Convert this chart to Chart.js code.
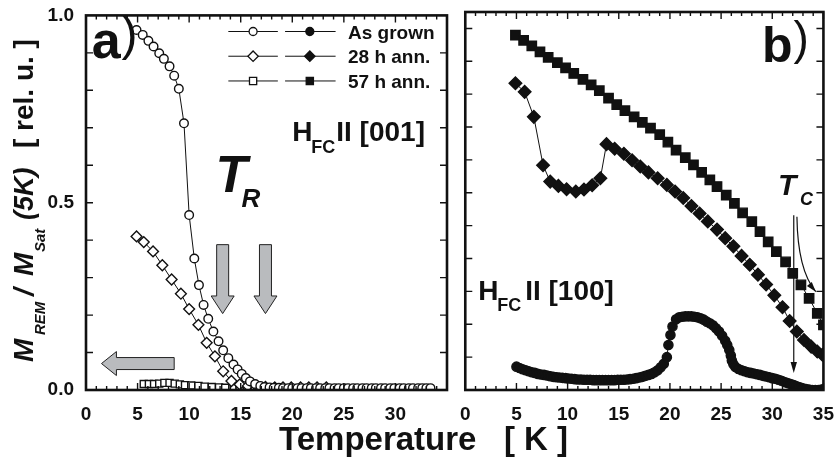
<!DOCTYPE html>
<html lang="en">
<head>
<meta charset="UTF-8">
<title>Remanent magnetization vs temperature</title>
<style>
  body { margin: 0; background: #fff; }
  #wrap { position: relative; width: 839px; height: 461px; overflow: hidden; }
  #wrap canvas { position: absolute; top: 0; }
  #cA { left: 0; }
  #cB { left: 455px; }
  #xTitle { position: absolute; left: 279px; top: 422px; font: bold 33px 'Liberation Sans', Arial, sans-serif;
            line-height: 33px; white-space: pre; color: #111; }
</style>
</head>
<body>
<div id="wrap">
  <canvas id="cA" width="458" height="461"></canvas>
  <canvas id="cB" width="384" height="461"></canvas>
  <div id="xTitle">Temperature   [ K ]</div>
</div>

<script src="https://cdn.jsdelivr.net/npm/chart.js"></script>
<script>
const FONT = "'Liberation Sans', Arial, Helvetica, sans-serif";

// ---- panel a)  H_FC || [001] ----
const tGrownA = [4.9, 5.5, 6.05, 6.55, 7.1, 7.55, 8.1, 8.55, 9.0, 9.5, 10.0, 10.5, 10.95, 11.4, 11.85, 12.35, 12.85, 13.3, 13.8, 14.3,
  14.7, 15.1, 15.5, 15.9, 16.4, 16.9, 17.3, 17.8, 18.2, 18.7, 19.1, 19.6, 20.0, 20.5, 20.9, 21.4, 21.8, 22.3, 22.7, 23.2,
  23.6, 24.1, 24.5, 25.0, 25.4, 25.9, 26.3, 26.8, 27.2, 27.7, 28.1, 28.6, 29.0, 29.5, 29.9, 30.4, 30.8, 31.3, 31.7, 32.2,
  32.6, 33.0, 33.4];
const mGrownA = [0.961, 0.948, 0.932, 0.917, 0.899, 0.884, 0.864, 0.839, 0.804, 0.712, 0.467, 0.351, 0.280, 0.227, 0.190, 0.156, 0.130, 0.106, 0.085, 0.068,
  0.055, 0.043, 0.032, 0.023, 0.016, 0.011, 0.008, 0.007, 0.006, 0.006, 0.005, 0.005, 0.005, 0.005, 0.005, 0.005, 0.005, 0.005, 0.005, 0.005,
  0.005, 0.005, 0.005, 0.005, 0.005, 0.005, 0.005, 0.005, 0.005, 0.005, 0.005, 0.005, 0.005, 0.005, 0.005, 0.005, 0.005, 0.005, 0.005, 0.005,
  0.005, 0.005, 0.005];

const tAnn28A = [4.9, 5.6, 6.5, 7.4, 8.3, 9.2, 10.0, 10.9, 11.7, 12.5, 13.3, 14.1, 14.9, 15.7, 16.6, 17.4, 18.3, 19.1, 19.9, 20.8, 21.6, 22.4, 23.3];
const mAnn28A = [0.410, 0.395, 0.370, 0.333, 0.295, 0.257, 0.216, 0.174, 0.126, 0.090, 0.050, 0.024, 0.015, 0.011, 0.009, 0.008, 0.007, 0.007, 0.007, 0.007, 0.007, 0.007, 0.007];

const tAnn57A = [5.6, 6.1, 6.6, 7.1, 7.6, 8.1, 8.6, 9.1, 9.6, 10.2, 10.9, 11.5, 12.2, 12.9, 13.5, 14.2, 14.9, 15.6];
const mAnn57A = [0.016, 0.016, 0.016, 0.017, 0.019, 0.019, 0.017, 0.015, 0.013, 0.012, 0.011, 0.009, 0.008, 0.007, 0.006, 0.005, 0.004, 0.004];

// ---- panel b)  H_FC || [100] ----
const tGrownB = [5.0, 5.3, 5.6, 5.9, 6.2, 6.5, 6.8, 7.1, 7.4, 7.7, 8.0, 8.3, 8.6, 8.9, 9.2, 9.5, 9.8, 10.1, 10.4, 10.7,
  11.0, 11.3, 11.6, 11.9, 12.2, 12.5, 12.8, 13.1, 13.4, 13.7, 14.0, 14.3, 14.6, 14.9, 15.2, 15.5, 15.8, 16.1, 16.4, 16.7,
  17.0, 17.3, 17.6, 17.9, 18.2, 18.5, 18.8, 19.1, 19.4, 19.7, 19.85, 20.05, 20.25, 20.6, 20.9, 21.2, 21.5, 21.8, 22.1, 22.4,
  22.7, 23.0, 23.3, 23.6, 23.9, 24.2, 24.5, 24.8, 25.1, 25.4, 25.6, 25.8, 25.95, 26.05, 26.2, 26.4, 26.7, 27.0, 27.3, 27.6,
  27.9, 28.2, 28.5, 28.8, 29.1, 29.4, 29.7, 30.0, 30.3, 30.6, 30.9, 31.2, 31.5, 31.8, 32.1, 32.4, 32.7, 33.0, 33.3, 33.6,
  33.9, 34.2, 34.5, 34.8, 35.0];
const mGrownB = [0.071, 0.067, 0.063, 0.060, 0.057, 0.054, 0.052, 0.049, 0.047, 0.046, 0.044, 0.042, 0.040, 0.039, 0.038, 0.037, 0.036, 0.035, 0.034, 0.033,
  0.032, 0.032, 0.031, 0.031, 0.031, 0.030, 0.030, 0.030, 0.030, 0.030, 0.030, 0.030, 0.030, 0.031, 0.031, 0.031, 0.032, 0.033, 0.034, 0.036,
  0.038, 0.040, 0.043, 0.046, 0.049, 0.054, 0.060, 0.069, 0.080, 0.100, 0.137, 0.167, 0.193, 0.215, 0.221, 0.223, 0.224, 0.224, 0.224, 0.223,
  0.221, 0.218, 0.214, 0.208, 0.203, 0.197, 0.188, 0.178, 0.165, 0.150, 0.137, 0.122, 0.105, 0.090, 0.078, 0.070, 0.064, 0.060, 0.057, 0.054,
  0.052, 0.050, 0.048, 0.046, 0.043, 0.041, 0.039, 0.036, 0.034, 0.031, 0.028, 0.024, 0.021, 0.018, 0.015, 0.011, 0.008, 0.005, 0.003, 0.001,
  0.000, 0.000, 0.000, 0.001, 0.002];

const tAnn28B = [4.9, 5.8, 6.7, 7.6, 8.3, 9.1, 9.9, 10.8, 11.6, 12.4, 13.2, 13.8, 14.6, 15.5, 16.3, 17.1, 17.9, 18.8, 19.7, 20.5,
  21.3, 22.1, 22.9, 23.7, 24.6, 25.4, 26.2, 27.0, 27.8, 28.6, 29.4, 30.2, 31.0, 31.7, 32.4, 33.1, 33.8, 34.4, 34.9];
const mAnn28B = [0.933, 0.907, 0.831, 0.684, 0.634, 0.621, 0.611, 0.604, 0.610, 0.623, 0.644, 0.748, 0.734, 0.719, 0.699, 0.680, 0.662, 0.644, 0.624, 0.604,
  0.584, 0.560, 0.537, 0.513, 0.488, 0.462, 0.437, 0.408, 0.381, 0.351, 0.321, 0.288, 0.252, 0.210, 0.178, 0.152, 0.132, 0.117, 0.107];

const tAnn57B = [4.9, 5.7, 6.5, 7.3, 8.1, 9.0, 9.8, 10.6, 11.5, 12.3, 13.1, 14.0, 14.8, 15.6, 16.5, 17.3, 18.1, 19.0, 19.8, 20.6,
  21.5, 22.3, 23.1, 23.9, 24.6, 25.5, 26.3, 27.1, 28.0, 28.8, 29.6, 30.4, 31.3, 32.0, 32.8, 33.6, 34.4, 35.0];
const mAnn57B = [1.080, 1.064, 1.047, 1.029, 1.012, 0.996, 0.980, 0.963, 0.945, 0.928, 0.911, 0.888, 0.868, 0.850, 0.831, 0.814, 0.797, 0.777, 0.754, 0.730,
  0.707, 0.685, 0.662, 0.639, 0.619, 0.593, 0.568, 0.539, 0.512, 0.482, 0.451, 0.421, 0.390, 0.355, 0.320, 0.279, 0.233, 0.198];

const legendNames = ['As grown', '28 h ann.', '57 h ann.'];
const legendStyles = ['circle', 'diamond', 'square'];
const xLabelsA = [0, 5, 10, 15, 20, 25, 30];
const yLabelsA = [0, 0.5, 1.0];

const pts = (t, m) => t.map((v, i) => ({ x: v, y: m[i] }));

function series(label, t, m, style, r, fill) {
  return {
    label, data: pts(t, m), showLine: true, tension: 0,
    borderColor: '#111', borderWidth: 1,
    pointStyle: style, pointRadius: r, pointHoverRadius: r,
    pointBackgroundColor: fill, pointBorderColor: '#111', pointBorderWidth: 1.4
  };
}

// own marker drawer for the legend
function marker(ctx, style, x, y, filled) {
  ctx.beginPath();
  if (style === 'circle') ctx.arc(x, y, 4, 0, Math.PI * 2);
  else if (style === 'square') ctx.rect(x - 3.6, y - 3.6, 7.2, 7.2);
  else { const r = 5.2; ctx.moveTo(x, y - r); ctx.lineTo(x + r, y); ctx.lineTo(x, y + r); ctx.lineTo(x - r, y); ctx.closePath(); }
  ctx.fillStyle = filled ? '#111' : '#fff';
  ctx.fill();
  ctx.lineWidth = 1.3; ctx.strokeStyle = '#111'; ctx.stroke();
}

// frame and inward ticks
const frame = {
  id: 'frame',
  afterDatasetsDraw(chart, args, o) {
    const { ctx, chartArea: a } = chart;
    const x = chart.scales.x, y = chart.scales.y;
    ctx.save();
    ctx.strokeStyle = '#111';
    ctx.lineWidth = 1.4;
    ctx.beginPath();
    for (let v = 0; v <= x.max + 1e-9; v += 1) {
      const p = x.getPixelForValue(v), len = v % 5 === 0 ? 7 : 4;
      ctx.moveTo(p, a.bottom); ctx.lineTo(p, a.bottom - len);
      ctx.moveTo(p, a.top); ctx.lineTo(p, a.top + len);
    }
    for (let k = 1; k * o.yStep < y.max - 1e-6; k++) {
      const p = y.getPixelForValue(k * o.yStep);
      ctx.moveTo(a.left, p); ctx.lineTo(a.left + 7, p);
      ctx.moveTo(a.right, p); ctx.lineTo(a.right - 7, p);
    }
    ctx.stroke();
    ctx.lineWidth = 2.6;
    ctx.strokeRect(a.left, a.top, a.right - a.left, a.bottom - a.top);
    ctx.restore();
  }
};

function options(c) {
  const tickFont = { family: FONT, weight: 'bold', size: 19 };
  return {
    responsive: false, animation: false, events: [],
    layout: { padding: c.pad },
    plugins: { legend: { display: false }, tooltip: { enabled: false }, frame: { yStep: c.yStep } },
    scales: {
      x: {
        type: 'linear', min: 0, max: 35,
        grid: { display: false }, border: { display: false },
        afterFit: s => { s.height = 40; },
        ticks: { stepSize: 5, autoSkip: false, maxRotation: 0, padding: 5, color: '#111', font: tickFont,
                 callback: c.xLabel }
      },
      y: {
        type: 'linear', min: 0, max: c.yMax,
        grid: { display: false }, border: { display: false },
        afterFit: s => { s.width = c.yWidth; },
        ticks: { display: c.yLabels, stepSize: 0.5, padding: 4, color: '#111', font: tickFont,
                 callback: v => yLabelsA.includes(v) ? v.toFixed(1) : '' }
      }
    }
  };
}

function grayDown(ctx, P, t) {
  const [cx, top] = P(t, 0.388), base = P(t, 0.251)[1], tip = P(t, 0.204)[1];
  ctx.beginPath();
  ctx.moveTo(cx - 6, top); ctx.lineTo(cx + 6, top); ctx.lineTo(cx + 6, base); ctx.lineTo(cx + 11.5, base);
  ctx.lineTo(cx, tip); ctx.lineTo(cx - 11.5, base); ctx.lineTo(cx - 6, base); ctx.closePath();
  ctx.fill(); ctx.stroke();
}

function grayLeft(ctx, P) {
  const [tip, cy] = P(1.5, 0.0706), base = P(2.95, 0)[0], tail = P(8.55, 0)[0];
  ctx.beginPath();
  ctx.moveTo(tail, cy - 6); ctx.lineTo(tail, cy + 6); ctx.lineTo(base, cy + 6); ctx.lineTo(base, cy + 12);
  ctx.lineTo(tip, cy); ctx.lineTo(base, cy - 12); ctx.lineTo(base, cy - 6); ctx.closePath();
  ctx.fill(); ctx.stroke();
}

function txt(ctx, s, font, x, y) { ctx.font = font + ' ' + FONT; ctx.fillText(s, x, y); return ctx.measureText(s).width; }

const decorA = {
  id: 'decorA',
  afterDraw(chart) {
    const { ctx } = chart, xs = chart.scales.x, ys = chart.scales.y;
    const P = (t, m) => [xs.getPixelForValue(t), ys.getPixelForValue(m)];
    ctx.save();
    ctx.fillStyle = '#111';
    ctx.textBaseline = 'alphabetic';

    // panel letter
    let [px, py] = P(0.55, 0.886);
    const w = txt(ctx, 'a', 'bold 52px', px, py);
    txt(ctx, ')', '48px', px + w + 1, py - 8);

    // legend
    const rows = [0.957, 0.891, 0.825];
    rows.forEach((m, i) => {
      const [x1, yy] = P(13.8, m), x2 = P(18.6, m)[0], x3 = P(19.3, m)[0], x4 = P(24.2, m)[0];
      ctx.strokeStyle = '#111'; ctx.lineWidth = 1;
      ctx.beginPath(); ctx.moveTo(x1, yy); ctx.lineTo(x2, yy); ctx.moveTo(x3, yy); ctx.lineTo(x4, yy); ctx.stroke();
      marker(ctx, legendStyles[i], P(16.2, m)[0], yy, false);
      marker(ctx, legendStyles[i], P(21.7, m)[0], yy, true);
      ctx.fillStyle = '#111';
      txt(ctx, legendNames[i], 'bold 19px', P(25.4, m)[0], yy + 7);
    });

    // field direction
    [px, py] = P(20.0, 0.666);
    txt(ctx, 'H', 'bold 28px', px, py);
    txt(ctx, 'FC', 'bold 18px', px + 19, py + 12);
    txt(ctx, 'II [001]', 'bold 28px', px + 44, py);

    // T_R
    [px, py] = P(12.55, 0.529);
    txt(ctx, 'T', 'italic bold 52px', px, py);
    txt(ctx, 'R', 'italic bold 26px', px + 26, py + 15);

    // gray arrows
    ctx.fillStyle = '#b9bbbe'; ctx.strokeStyle = '#222'; ctx.lineWidth = 1;
    grayDown(ctx, P, 13.25);
    grayDown(ctx, P, 17.4);
    grayLeft(ctx, P);

    // y axis title
    ctx.fillStyle = '#111';
    ctx.translate(33, 362);
    ctx.rotate(-Math.PI / 2);
    const parts = [
      ['M', 'italic bold 28px', 0, 0],
      ['REM', 'italic bold 15px', 27, 12],
      ['/', 'italic bold 28px', 66, 0],
      ['M', 'italic bold 28px', 86, 0],
      ['Sat', 'italic bold 15px', 110, 12],
      ['(5K)', 'italic bold 27px', 142, 0],
      ['[ rel. u. ]', 'bold 28px', 214, 0]
    ];
    parts.forEach(p => txt(ctx, p[0], p[1], p[2], p[3]));
    ctx.restore();
  }
};

const decorB = {
  id: 'decorB',
  afterDraw(chart) {
    const { ctx } = chart, xs = chart.scales.x, ys = chart.scales.y;
    const P = (t, m) => [xs.getPixelForValue(t), ys.getPixelForValue(m)];
    ctx.save();
    ctx.fillStyle = '#111';

    let [px, py] = P(29.0, 0.998);
    const w = txt(ctx, 'b', 'bold 50px', px, py);
    txt(ctx, ')', '46px', px + w + 1, py - 8);

    [px, py] = P(1.26, 0.274);
    txt(ctx, 'H', 'bold 28px', px, py);
    txt(ctx, 'FC', 'bold 18px', px + 19, py + 11);
    txt(ctx, 'II [100]', 'bold 28px', px + 47, py);

    [px, py] = P(30.55, 0.593);
    txt(ctx, 'T', 'italic bold 30px', px, py);
    txt(ctx, 'C', 'italic bold 18px', px + 22, py + 10);

    // T_C markers
    ctx.strokeStyle = '#111'; ctx.lineWidth = 1.2;
    const [vx, vTop] = P(32.1, 0.532), vBot = P(32.1, 0.052)[1];
    ctx.beginPath(); ctx.moveTo(vx, vTop); ctx.lineTo(vx, vBot - 8); ctx.stroke();
    ctx.beginPath(); ctx.moveTo(vx, vBot); ctx.lineTo(vx - 3.2, vBot - 11); ctx.lineTo(vx + 3.2, vBot - 11); ctx.closePath(); ctx.fill();

    const s = P(32.41, 0.527), c = P(32.48, 0.365), e = P(34.25, 0.299);
    ctx.beginPath(); ctx.moveTo(s[0], s[1]); ctx.quadraticCurveTo(c[0], c[1], e[0], e[1]); ctx.stroke();
    const ang = Math.atan2(e[1] - c[1], e[0] - c[0]);
    ctx.beginPath();
    ctx.moveTo(e[0], e[1]);
    ctx.lineTo(e[0] - 10 * Math.cos(ang) + 3.2 * Math.sin(ang), e[1] - 10 * Math.sin(ang) - 3.2 * Math.cos(ang));
    ctx.lineTo(e[0] - 10 * Math.cos(ang) - 3.2 * Math.sin(ang), e[1] - 10 * Math.sin(ang) + 3.2 * Math.cos(ang));
    ctx.closePath(); ctx.fill();
    ctx.restore();
  }
};

new Chart(document.getElementById('cA'), {
  type: 'scatter',
  data: {
    datasets: [
      series('As grown', tGrownA, mGrownA, 'circle', 4.3, '#fff'),
      series('28 h ann.', tAnn28A, mAnn28A, 'rectRot', 5.4, '#fff'),
      series('57 h ann.', tAnn57A, mAnn57A, 'rect', 5.0, '#fff')
    ]
  },
  options: options({ pad: { top: 12, right: 11, bottom: 31, left: 0 }, yStep: 0.1, yMax: 1.0, yWidth: 86, yLabels: true,
                     xLabel: v => xLabelsA.includes(v) ? String(v) : '' }),
  plugins: [frame, decorA]
});

new Chart(document.getElementById('cB'), {
  type: 'scatter',
  data: {
    datasets: [
      series('As grown', tGrownB, mGrownB, 'circle', 4.6, '#111'),
      series('28 h ann.', tAnn28B, mAnn28B, 'rectRot', 6.3, '#111'),
      series('57 h ann.', tAnn57B, mAnn57B, 'rect', 6.6, '#111')
    ]
  },
  options: options({ pad: { top: 12, right: 13, bottom: 31, left: 0 }, yStep: 0.1, yMax: 1.15, yWidth: 10, yLabels: false,
                     xLabel: v => String(v) }),
  plugins: [frame, decorB]
});
</script>
</body>
</html>
